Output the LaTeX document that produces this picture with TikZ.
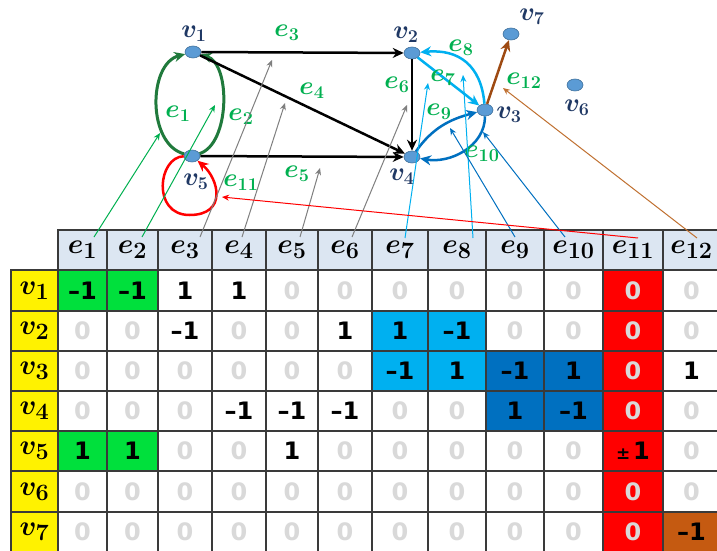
\documentclass[tikz,border=0pt]{standalone}
\usepackage{fontspec}
\usepackage{graphicx}
\usetikzlibrary{arrows.meta,shapes.geometric}
\newfontfamily\cellfont{DejaVu Sans}

\definecolor{nodeblue}{HTML}{5B9BD5}
\definecolor{nodeedge}{HTML}{41719C}
\definecolor{navy}{HTML}{1F3864}
\definecolor{lblgreen}{HTML}{00B050}
\definecolor{arcgreen}{HTML}{207A3C}
\definecolor{lblue}{HTML}{00B0F0}
\definecolor{dblue}{HTML}{0070C0}
\definecolor{loopred}{HTML}{FF0000}
\definecolor{brownline}{HTML}{9E4A12}
\definecolor{brownptr}{HTML}{C07030}
\definecolor{browncell}{HTML}{C55A11}
\definecolor{greencell}{HTML}{00E03C}
\definecolor{headblue}{HTML}{DCE6F2}
\definecolor{gridline}{HTML}{3A3A3A}
\definecolor{zerogray}{HTML}{D9D9D9}
\definecolor{ptrgray}{HTML}{7F7F7F}

% bold math symbol, enlarged from a standard math size
\newcommand\glab[1]{\scalebox{1.25}{$#1$}}
\newcommand\tlab[1]{\scalebox{1.13}{$#1$}}

% column centres and widths of the incidence table (index 0 unused)
\def\colx{{0,82.5,132.5,185,239,292,345,400,457,515,573.5,633,691.5}}
\def\colw{{0,49,51,54,54,52,54,56,58,58,59,60,57}}

\tikzset{
  vdot/.style={ellipse, fill=nodeblue, draw=nodeedge, line width=0.6pt,
    minimum width=16pt, minimum height=12pt, inner sep=0pt},
  vlab/.style={text=navy, inner sep=0pt, font=\fontsize{20.74}{20.74}\selectfont\boldmath},
  elab/.style={text=lblgreen, inner sep=0pt, font=\fontsize{20.74}{20.74}\selectfont\boldmath},
  arc/.style={line width=2.5pt, -{Stealth[length=11pt,width=10pt]}},
  ptr/.style={line width=1pt, -{Stealth[length=7pt,width=6pt]}},
  cell/.style={draw=gridline, line width=1.2pt, inner sep=0pt, fill=white,
    font=\cellfont\bfseries\fontsize{24}{24}\selectfont},
  headcell/.style={draw=gridline, line width=1.2pt, inner sep=0pt, fill=headblue,
    minimum height=40pt, font=\fontsize{24.88}{24.88}\selectfont\boldmath},
  rowlab/.style={draw=gridline, line width=1.2pt, inner sep=0pt, fill=yellow,
    minimum width=47pt, font=\fontsize{24.88}{24.88}\selectfont\boldmath},
  zc/.style={text=zerogray},
  nc/.style={text=black},
  gc/.style={fill=greencell, text=black},
  lc/.style={fill=lblue, text=black},
  bc/.style={fill=dblue, text=black},
  rz/.style={fill=loopred, text=zerogray},
  rn/.style={fill=loopred, text=black},
  oc/.style={fill=browncell, text=black},
}

% one table row: #1 vertex index, #2 centre y, #3 height, #4 entries col/text/style
\newcommand\tabrow[4]{%
  \node[rowlab, minimum height=#3pt] (r#1) at (34.5,#2) {\tlab{v_{#1}}};
  \foreach \c/\t/\s in {#4}{
    \pgfmathsetmacro\cx{\colx[\c]}
    \pgfmathsetmacro\cw{\colw[\c]}
    \node[cell, \s, minimum width=\cw pt, minimum height=#3pt] (c-#1-\c) at (\cx,#2) {\t};
  }%
}

\begin{document}
\begin{tikzpicture}[x=1pt,y=1pt]
\fill[white] (0,0) rectangle (717,550);
\clip (0,0) rectangle (717,550);

% ---------- incidence table ----------
\foreach \c in {1,...,12}{
  \pgfmathsetmacro\cx{\colx[\c]}
  \pgfmathsetmacro\cw{\colw[\c]}
  \node[headcell, minimum width=\cw pt] (h\c) at (\cx,300) {\tlab{e_{\c}}};
}
\tabrow{1}{259.5}{41}{1/–1/gc,2/–1/gc,3/1/nc,4/1/nc,5/0/zc,6/0/zc,7/0/zc,8/0/zc,9/0/zc,10/0/zc,11/0/rz,12/0/zc}
\tabrow{2}{219}{40}{1/0/zc,2/0/zc,3/–1/nc,4/0/zc,5/0/zc,6/1/nc,7/1/lc,8/–1/lc,9/0/zc,10/0/zc,11/0/rz,12/0/zc}
\tabrow{3}{179}{40}{1/0/zc,2/0/zc,3/0/zc,4/0/zc,5/0/zc,6/0/zc,7/–1/lc,8/1/lc,9/–1/bc,10/1/bc,11/0/rz,12/1/nc}
\tabrow{4}{139}{40}{1/0/zc,2/0/zc,3/0/zc,4/–1/nc,5/–1/nc,6/–1/nc,7/0/zc,8/0/zc,9/1/bc,10/–1/bc,11/0/rz,12/0/zc}
\tabrow{5}{99}{40}{1/1/gc,2/1/gc,3/0/zc,4/0/zc,5/1/nc,6/0/zc,7/0/zc,8/0/zc,9/0/zc,10/0/zc,11/{\fontsize{17}{17}\selectfont ±\,}1/rn,12/0/zc}
\tabrow{6}{58.5}{41}{1/0/zc,2/0/zc,3/0/zc,4/0/zc,5/0/zc,6/0/zc,7/0/zc,8/0/zc,9/0/zc,10/0/zc,11/0/rz,12/0/zc}
\tabrow{7}{18}{40}{1/0/zc,2/0/zc,3/0/zc,4/0/zc,5/0/zc,6/0/zc,7/0/zc,8/0/zc,9/0/zc,10/0/zc,11/0/rz,12/–1/oc}

% ---------- vertices ----------
\node[vdot] (v1) at (193,498) {};
\node[vdot] (v2) at (412,497) {};
\node[vdot] (v3) at (485,440) {};
\node[vdot] (v4) at (412,393) {};
\node[vdot] (v5) at (192,394) {};
\node[vdot] (v6) at (575,465) {};
\node[vdot] (v7) at (511,516) {};

\node[vlab] (lv1) at (194,516) {\glab{v_1}};
\node[vlab] (lv2) at (406,515) {\glab{v_2}};
\node[vlab] (lv3) at (509,435) {\glab{v_3}};
\node[vlab] (lv4) at (402,373) {\glab{v_4}};
\node[vlab] (lv5) at (196,368) {\glab{v_5}};
\node[vlab] (lv6) at (577,442) {\glab{v_6}};
\node[vlab] (lv7) at (532,533) {\glab{v_7}};

% ---------- directed edges ----------
\coordinate (l11) at (189.5,335);
\draw[arc, arcgreen, line width=3pt] (v5) .. controls +(-45,12) and +(-45,-12) .. (v1);
\draw[arc, arcgreen, line width=3pt] (v5) .. controls +(38,12) and +(38,-12) .. (v1);
\draw[arc, black] (v1) -- (v2);
\draw[arc, black] (v1) -- (v4);
\draw[arc, black] (v5) -- (v4);
\draw[arc, black] (v2) -- (v4);
\draw[arc, lblue] (v2) -- (v3);
\draw[arc, lblue] (v3) to[out=95, in=5, looseness=1.2] (v2);
\draw[arc, dblue] (v4) to[out=55, in=195] (v3);
\draw[arc, dblue] (v3) to[out=-90, in=-10] (v4);
\draw[arc, loopred] (v5) .. controls +(-34,-1) and +(-38,0) .. (l11)
                         .. controls +(38,0) and +(27,-23) .. (v5);
\draw[arc, brownline] (v3) -- (v7);

\node[elab] (le1) at (178,436) {\glab{e_1}};
\node[elab] (le2) at (241,433) {\glab{e_2}};
\node[elab] (le3) at (287,517) {\glab{e_3}};
\node[elab] (le4) at (312,459) {\glab{e_4}};
\node[elab] (le5) at (297,376) {\glab{e_5}};
\node[elab] (le6) at (397,465) {\glab{e_6}};
\node[elab] (le7) at (443,472) {\glab{e_7}};
\node[elab] (le8) at (461,502) {\glab{e_8}};
\node[elab] (le9) at (439,438) {\glab{e_9}};
\node[elab] (le10) at (482,396) {\glab{e_{10}}};
\node[elab] (le11) at (241,367) {\glab{e_{11}}};
\node[elab] (le12) at (524,469) {\glab{e_{12}}};

% ---------- pointers from column heads to edges ----------
\coordinate (p1) at (94,313);   \coordinate (t1) at (160,417);
\coordinate (p2) at (142,313);  \coordinate (t2) at (215,445);
\coordinate (p3) at (200,313);  \coordinate (t3) at (272,490);
\coordinate (p4) at (242,313);  \coordinate (t4) at (285,447);
\coordinate (p5) at (300,313);  \coordinate (t5) at (320,382);
\coordinate (p6) at (352,313);  \coordinate (t6) at (407,445);
\coordinate (p7) at (405,312);  \coordinate (t7) at (428,467);
\coordinate (p8) at (473,312);  \coordinate (t8) at (463,475);
\coordinate (p9) at (515,313);  \coordinate (t9) at (450,422);
\coordinate (p10) at (565,313); \coordinate (t10) at (483,418);
\coordinate (p11) at (638,312); \coordinate (t11) at (222,353);
\coordinate (p12) at (697,312); \coordinate (t12) at (503,462);

\draw[ptr, lblgreen] (p1) -- (t1);
\draw[ptr, lblgreen] (p2) -- (t2);
\draw[ptr, ptrgray] (p3) -- (t3);
\draw[ptr, ptrgray] (p4) -- (t4);
\draw[ptr, ptrgray] (p5) -- (t5);
\draw[ptr, ptrgray] (p6) -- (t6);
\draw[ptr, lblue] (p7) -- (t7);
\draw[ptr, lblue] (p8) -- (t8);
\draw[ptr, dblue] (p9) -- (t9);
\draw[ptr, dblue] (p10) -- (t10);
\draw[ptr, loopred] (p11) -- (t11);
\draw[ptr, brownptr] (p12) -- (t12);
\end{tikzpicture}
\end{document}
